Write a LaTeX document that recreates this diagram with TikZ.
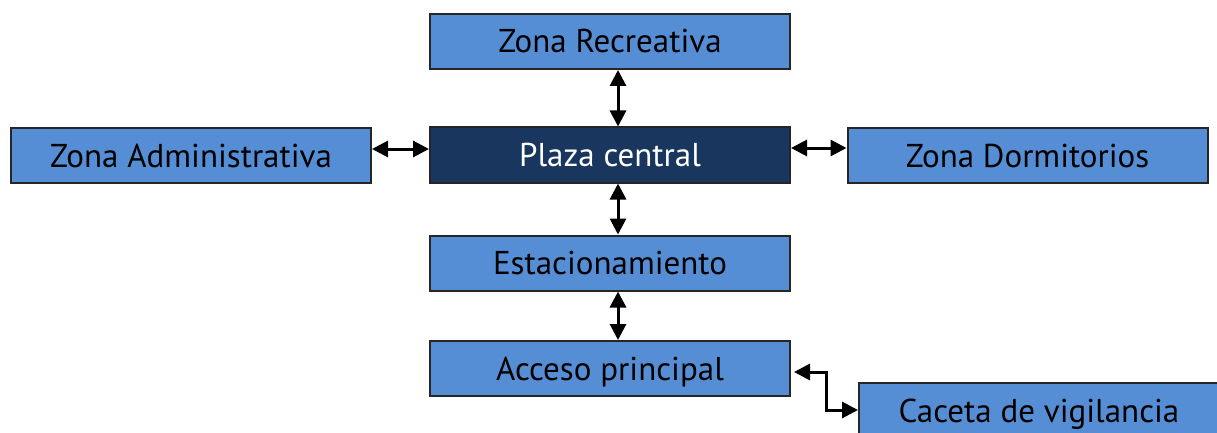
\documentclass[tikz,border=0pt]{standalone}
\usepackage{fontspec}
\setmainfont{PT Sans}
\usetikzlibrary{arrows.meta}
\definecolor{zonablue}{RGB}{85,142,213}
\definecolor{plazanavy}{RGB}{24,54,94}

\begin{document}
\begin{tikzpicture}[x=1pt,y=-1pt,
     zona/.style={rectangle,draw=black!85,line width=2pt,fill=zonablue,text=black,
        minimum width=360pt,minimum height=55pt,inner sep=0pt,
        text height=23pt,text depth=0pt,font=\fontsize{33}{36}\selectfont},
     plaza/.style={zona,fill=plazanavy,text=white},
     link/.style={line width=3pt,{Triangle[length=16pt,width=16pt]}-{Triangle[length=16pt,width=16pt]}}]

     \useasboundingbox (0,0) rectangle (1217,433);

     \node[plaza] (Plaza) at (610,155) {Plaza central};
     \node[zona] (Recreativa) at (610,41.5) {Zona Recreativa};
     \node[zona] (Administrativa) at (191,155.5) {Zona Administrativa};
     \node[zona] (Dormitorios) at (1027.5,155.5) {Zona Dormitorios};
     \node[zona] (Estacionamiento) at (610,263) {Estacionamiento};
     \node[zona] (Acceso) at (610,368.5) {Acceso principal};
     \node[zona] (Caceta) at (1039,410.5) {Caceta de vigilancia};

     \coordinate (esquina) at (826,372);

     \draw[link] ([xshift=8pt]Recreativa.south) -- ([xshift=8pt]Plaza.north);
     \draw[link] (Administrativa.east |- 0,149) -- (Plaza.west |- 0,149);
     \draw[link] (Plaza.east |- 0,148) -- (Dormitorios.west |- 0,148);
     \draw[link] ([xshift=8pt]Plaza.south) -- ([xshift=8pt]Estacionamiento.north);
     \draw[link] ([xshift=8pt]Estacionamiento.south) -- ([xshift=8pt]Acceso.north);
     \draw[link] ([xshift=3pt]Acceso.east |- esquina) -- (esquina) |- (Caceta.west |- 0,410);
\end{tikzpicture}
\end{document}
